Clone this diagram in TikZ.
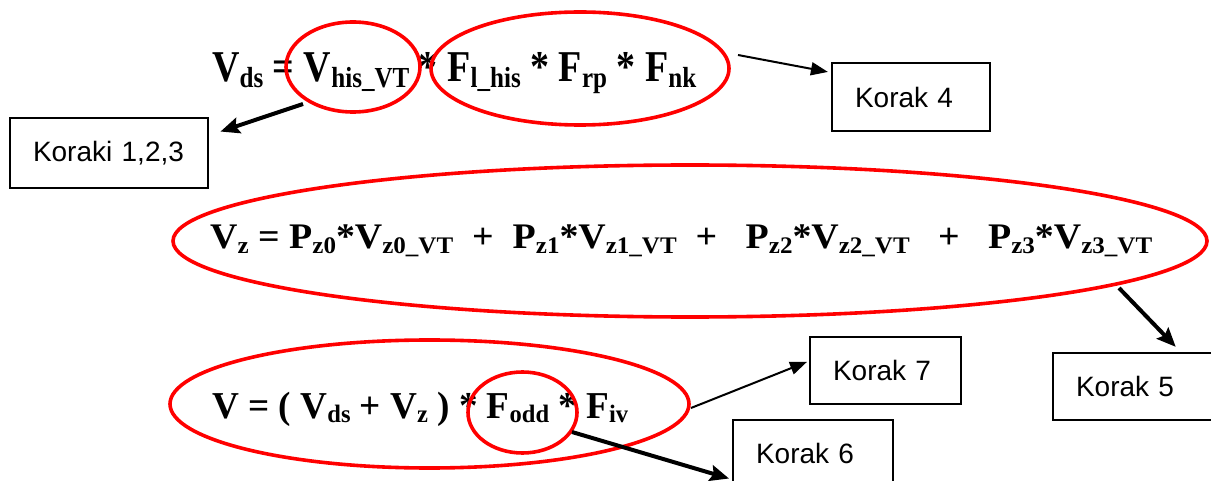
\documentclass[tikz,border=0pt]{standalone}
\usepackage{fontspec}
\setmainfont{Liberation Serif}
\newfontfamily\lsans{Liberation Sans}
\usepackage{graphicx}
\usetikzlibrary{shapes.geometric,arrows.meta}
\newcommand\sbx[1]{\raisebox{-0.13em}{\scalebox{0.66}{#1}}}
\begin{document}
\begin{tikzpicture}[x=1pt,y=-1pt,
  redell/.style={draw=red, line width=3.6pt, ellipse, inner sep=0pt},
  kbox/.style={draw, line width=2.2pt, inner ysep=0pt, inner xsep=23pt, align=left,
    font={\lsans\fontsize{28pt}{30pt}\selectfont}},
  eqn/.style={inner sep=0pt, anchor=base west, font=\bfseries},
  thinarr/.style={line width=2pt, -{Triangle[length=17pt,width=13pt]}},
  thickarr/.style={line width=4pt, -{Stealth[length=19pt,width=16pt,inset=3pt]}}]
\useasboundingbox (0,0) rectangle (1211,481);
% equations
\node[eqn] (q1) at (212,82) {\fontsize{44pt}{44pt}\selectfont\resizebox{484pt}{\height}{V\sbx{ds} = V\sbx{his\_VT} * F\sbx{l\_his} * F\sbx{rp} * F\sbx{nk}}};
\node[eqn] (q2) at (210,249) {\fontsize{36pt}{36pt}\selectfont\resizebox{942pt}{\height}{V\sbx{z} = P\sbx{z0}*V\sbx{z0\_VT}~~+~~P\sbx{z1}*V\sbx{z1\_VT}~~+~~~P\sbx{z2}*V\sbx{z2\_VT}~~~+~~~P\sbx{z3}*V\sbx{z3\_VT}}};
\node[eqn] (q3) at (212,418) {\fontsize{38pt}{38pt}\selectfont\resizebox{416pt}{\height}{V = ( V\sbx{ds} + V\sbx{z} ) * F\sbx{odd} * F\sbx{iv}}};
% ellipses
\node[redell, minimum width=134pt, minimum height=90pt] (e1) at (353,67) {};
\node[redell, minimum width=298pt, minimum height=113pt] (e2) at (580,68.5) {};
\node[redell, minimum width=1034pt, minimum height=152pt] (ez) at (690,241) {};
\node[redell, minimum width=519pt, minimum height=128pt] (ev) at (429.5,404) {};
\node[redell, minimum width=109pt, minimum height=81pt] (eo) at (522.5,412.5) {};
% boxes
\node[kbox, text width=152pt, minimum height=70pt] (k123) at (109,153) {Koraki 1,2,3};
\node[kbox, text width=112pt, minimum height=68pt] (k4) at (911,97) {Korak 4};
\node[kbox, text width=105pt, minimum height=67pt] (k7) at (885.5,370.5) {Korak 7};
\node[kbox, text width=114pt, minimum height=66pt] (k6) at (813,453) {Korak 6};
\node[kbox, text width=114pt, minimum height=67pt] (k5) at (1133,386.5) {Korak 5};
% arrows
\coordinate (s1) at (303,104);
\coordinate (s4) at (738,55);
\coordinate (s5) at (1119,288);
\coordinate (s7) at (691,408);
\coordinate (s6) at (572,432);
\draw[thickarr, shorten >=12pt] (s1) -- (k123.10);
\draw[thinarr, shorten >=3pt] (s4) -- (k4.163);
\draw[thickarr, shorten >=7pt] (s5) -- (k5.36);
\draw[thinarr, shorten >=2pt] (s7) -- (k7.173);
\draw[thickarr, shorten >=3pt] (s6) -- (k6.198);
\end{tikzpicture}
\end{document}
